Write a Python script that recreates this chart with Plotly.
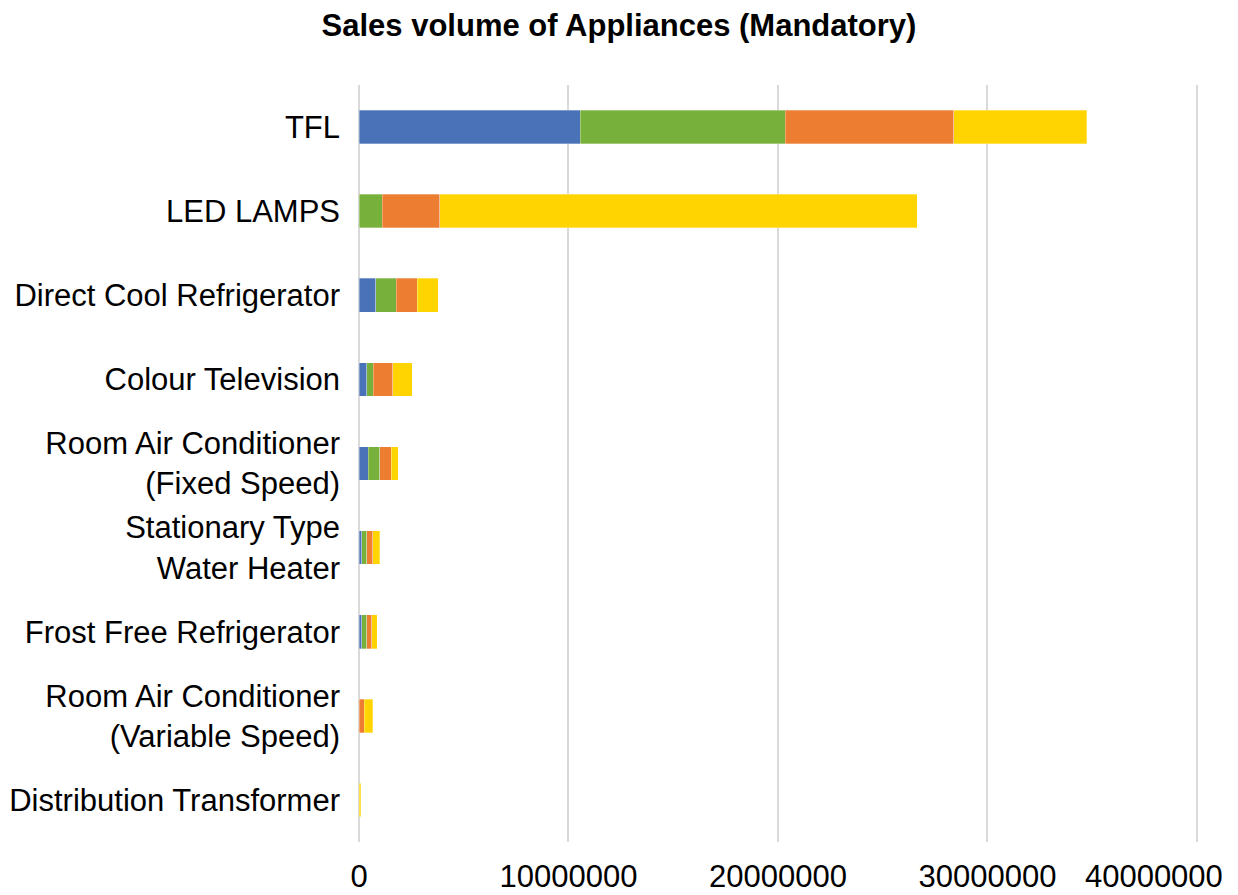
import plotly.graph_objects as go

categories = [
    "TFL",
    "LED LAMPS",
    "Direct Cool Refrigerator",
    "Colour Television",
    "Room Air Conditioner<br>(Fixed Speed)",
    "Stationary Type<br>Water Heater",
    "Frost Free Refrigerator",
    "Room Air Conditioner<br>(Variable Speed)",
    "Distribution Transformer",
]

# four stacked segments per appliance (left to right)
series_names = ["Series 1", "Series 2", "Series 3", "Series 4"]
blue_vals = [10570000, 0, 810000, 380000, 430000, 140000, 140000, 0, 0]
green_vals = [9780000, 1120000, 970000, 300000, 570000, 240000, 230000, 0, 0]
orange_vals = [8050000, 2740000, 1000000, 940000, 530000, 270000, 240000, 240000, 0]
yellow_vals = [6340000, 22780000, 1000000, 920000, 350000, 340000, 250000, 410000, 90000]

x_ticks = [0, 10000000, 20000000, 30000000, 40000000]

colors = ["#4A72B8", "#77B13B", "#ED7D31", "#FFD400"]
FONT = "Liberation Sans, Arial, sans-serif"

# last label is pulled left so it stays inside the page, like the original
tick_text = [str(v) for v in x_ticks]
tick_text[-1] = tick_text[-1] + "&nbsp;" * 10

fig = go.Figure()
for name, vals, col in zip(
    series_names, [blue_vals, green_vals, orange_vals, yellow_vals], colors
):
    fig.add_trace(
        go.Bar(
            y=categories,
            x=vals,
            name=name,
            orientation="h",
            marker=dict(color=col, line=dict(color="rgba(255,255,255,0.6)", width=0.5)),
            hovertemplate="%{y}<br>%{x}<extra></extra>",
        )
    )

fig.update_layout(
    barmode="stack",
    bargap=0.6,
    width=1238,
    height=895,
    showlegend=False,
    paper_bgcolor="white",
    plot_bgcolor="white",
    font=dict(family=FONT, size=31, color="black"),
    title=dict(
        text="<b>Sales volume of Appliances (Mandatory)</b>",
        x=0.5,
        xanchor="center",
        y=0.972,
        yanchor="middle",
        font=dict(family=FONT, size=31, color="black"),
    ),
    margin=dict(l=359, r=40, t=85, b=53),
)

fig.update_xaxes(
    range=[0, 40050000],
    tickvals=x_ticks,
    ticktext=tick_text,
    ticklabeloverflow="allow",
    showgrid=True,
    gridcolor="#D9D9D9",
    gridwidth=2,
    zeroline=True,
    zerolinecolor="#D9D9D9",
    zerolinewidth=2,
    showline=False,
    ticks="",
    ticklabelstandoff=13,
    automargin=False,
)
fig.update_yaxes(
    autorange="reversed",
    showgrid=False,
    showline=False,
    ticks="",
    ticklabelstandoff=18,
    automargin=False,
)

# drop the page's default body margin so the figure fills the window exactly
fig.write_html(
    "out.html",
    config={"displayModeBar": False},
    post_script="document.body.style.margin='0px';",
)
